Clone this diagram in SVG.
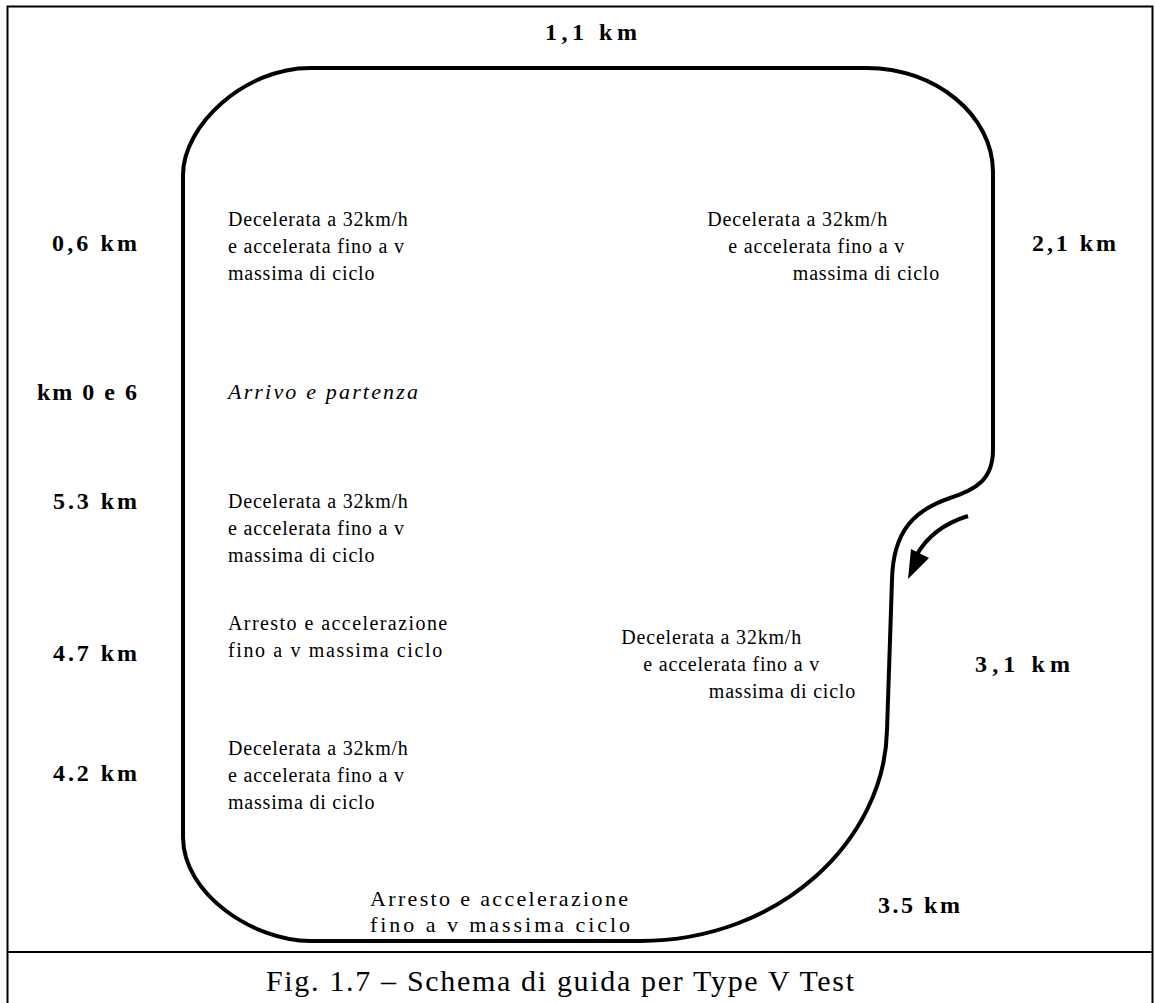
<svg xmlns="http://www.w3.org/2000/svg" width="1155" height="1003" viewBox="0 0 1155 1003">
<style>
text{font-family:"Liberation Serif","Times New Roman",serif;fill:#000}
.t{font-size:20px;letter-spacing:0.8px}
.t2{font-size:22px}
.k{font-size:24px;font-weight:bold}
.i{font-style:italic}
.cap{font-size:30px}
.track{fill:none;stroke:#000;stroke-width:4;stroke-linejoin:round}
</style>
<rect x="7.5" y="6.5" width="1145" height="1010" fill="#fff" stroke="#000" stroke-width="2"/>
<line x1="7" y1="952" x2="1153" y2="952" stroke="#000" stroke-width="2"/>
<g id="connectors">
<path class="track" d="M183 175 C183 125 245 68 310 68 L867 68 C935 68 993 115 993 172 L993 450 C993 480 975 490 950 498 C915 510 893 530 892 580 L887 730 C885 840 780 941 640 941 L310 941 C255 941 183 895 183 837 Z"/>
<path class="track" d="M968 516 Q932 527 916 556" stroke-width="3.5"/>
<polygon points="908,579 911,549 929,558" fill="#000"/>
</g>
<g id="km11"><text class="k" x="545" y="40" textLength="92" lengthAdjust="spacing">1,1 km</text></g>
<g id="km06"><text class="k" x="52" y="251" textLength="85" lengthAdjust="spacing">0,6 km</text></g>
<g id="km21"><text class="k" x="1032" y="251" textLength="84" lengthAdjust="spacing">2,1 km</text></g>
<g id="km0"><text class="k" x="37" y="400" textLength="100" lengthAdjust="spacing">km 0 e 6</text></g>
<g id="km53"><text class="k" x="53" y="509" textLength="84" lengthAdjust="spacing">5.3 km</text></g>
<g id="km47"><text class="k" x="53" y="661" textLength="84" lengthAdjust="spacing">4.7 km</text></g>
<g id="km42"><text class="k" x="53" y="781" textLength="84" lengthAdjust="spacing">4.2 km</text></g>
<g id="km31"><text class="k" x="975" y="672" textLength="95" lengthAdjust="spacing">3,1 km</text></g>
<g id="km35"><text class="k" x="878" y="913" textLength="82" lengthAdjust="spacing">3.5 km</text></g>
<g id="n1">
<text class="t" x="228" y="226">Decelerata a 32km/h</text>
<text class="t" x="228" y="253">e accelerata fino a v</text>
<text class="t" x="228" y="280">massima di ciclo</text>
</g>
<g id="n2">
<text class="t" x="888" y="226" text-anchor="end">Decelerata a 32km/h</text>
<text class="t" x="905" y="253" text-anchor="end">e accelerata fino a v</text>
<text class="t" x="940" y="280" text-anchor="end">massima di ciclo</text>
</g>
<g id="n3"><text class="t2 i" x="228" y="399" textLength="190" lengthAdjust="spacing">Arrivo e partenza</text></g>
<g id="n4">
<text class="t" x="228" y="508">Decelerata a 32km/h</text>
<text class="t" x="228" y="535">e accelerata fino a v</text>
<text class="t" x="228" y="562">massima di ciclo</text>
</g>
<g id="n5">
<text class="t" x="228" y="630" textLength="220" lengthAdjust="spacing">Arresto e accelerazione</text>
<text class="t" x="228" y="657" textLength="215" lengthAdjust="spacing">fino a v massima ciclo</text>
</g>
<g id="n6">
<text class="t" x="802" y="644" text-anchor="end">Decelerata a 32km/h</text>
<text class="t" x="820" y="671" text-anchor="end">e accelerata fino a v</text>
<text class="t" x="856" y="698" text-anchor="end">massima di ciclo</text>
</g>
<g id="n7">
<text class="t" x="228" y="755">Decelerata a 32km/h</text>
<text class="t" x="228" y="782">e accelerata fino a v</text>
<text class="t" x="228" y="809">massima di ciclo</text>
</g>
<g id="n8">
<text class="t2" x="370" y="906" textLength="258" lengthAdjust="spacing">Arresto e accelerazione</text>
<text class="t2" x="370" y="932" textLength="260" lengthAdjust="spacing">fino a v massima ciclo</text>
</g>
<g id="caption"><text class="cap" x="266" y="991" textLength="588" lengthAdjust="spacing">Fig. 1.7 – Schema di guida per Type V Test</text></g>
</svg>
